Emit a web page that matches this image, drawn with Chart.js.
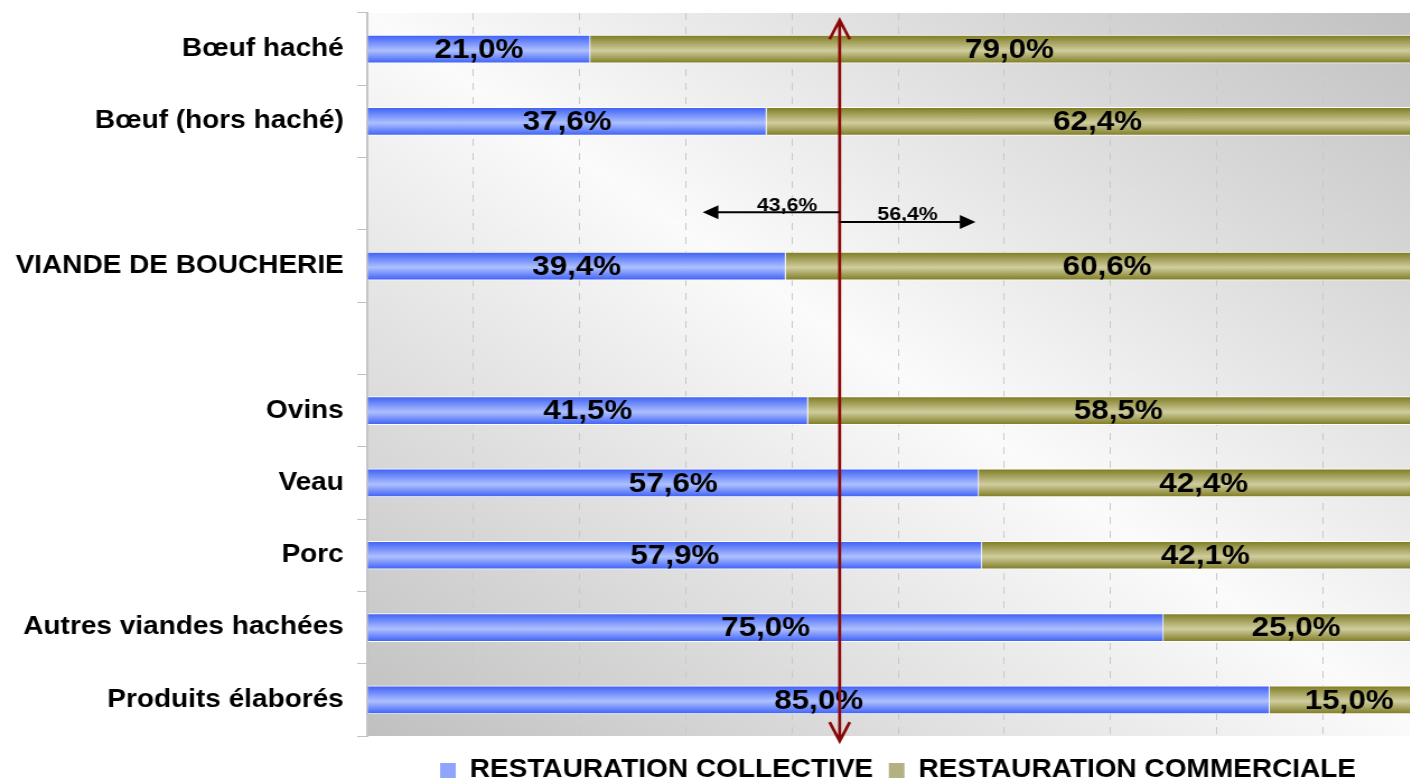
<!DOCTYPE html>
<html>
<head>
<meta charset="utf-8">
<script src="https://cdn.jsdelivr.net/npm/chart.js@4.4.0/dist/chart.umd.min.js"></script>
<style>
html, body { margin: 0; padding: 0; overflow: hidden; background: #fff; width: 1410px; height: 780px; }
#wrap { width: 1440px; height: 793px; }
canvas { display: block; }
</style>
</head>
<body>
<div id="wrap">
  <!-- drawn narrower then widened, like the original picture -->
  <canvas id="chart" width="1286" height="793" style="width:1440px;height:793px"></canvas>
</div>
<script>
// data
var categories = ['Bœuf haché', 'Bœuf (hors haché)', '', 'VIANDE DE BOUCHERIE', '', 'Ovins', 'Veau', 'Porc', 'Autres viandes hachées', 'Produits élaborés'];
var collective = [21.0, 37.6, null, 39.4, null, 41.5, 57.6, 57.9, 75.0, 85.0];
var commerciale = [79.0, 62.4, null, 60.6, null, 58.5, 42.4, 42.1, 25.0, 15.0];
var seriesNames = ['RESTAURATION COLLECTIVE', 'RESTAURATION COMMERCIALE'];
var splitLabels = ['43,6%', '56,4%'];

var FONT = "'Liberation Sans', Arial, sans-serif";
var legendColors = ['#8fa5fb', '#b3b083'];
Chart.defaults.font.family = FONT;

// vertical gradient for each bar, lighter in the middle
function barFill(edge, mid, flat) {
  return function(c) {
    var chart = c.chart;
    if (c.dataIndex === undefined || !chart.chartArea || !chart.scales.y) return flat;
    var y = chart.scales.y.getPixelForValue(c.dataIndex);
    var g = chart.ctx.createLinearGradient(0, y - 14, 0, y + 14);
    g.addColorStop(0, edge);
    g.addColorStop(0.55, mid);
    g.addColorStop(1, edge);
    return g;
  };
}

// grey/white diagonal background of the plot area
var plotBackground = {
  id: 'plotBackground',
  beforeDraw: function(chart) {
    var a = chart.chartArea, ctx = chart.ctx;
    var w = a.right - a.left, h = a.bottom - a.top;
    var cx = a.left + w / 2, cy = a.top + h / 2;
    var n = Math.sqrt(w * w + h * h);
    var ux = h / n, uy = -w / n, d = w * h / n;
    var g = ctx.createLinearGradient(cx - ux * d, cy - uy * d, cx + ux * d, cy + uy * d);
    g.addColorStop(0, '#c0c0c0');
    g.addColorStop(0.5, '#fbfbfb');
    g.addColorStop(1, '#c0c0c0');
    ctx.save();
    ctx.fillStyle = g;
    ctx.fillRect(a.left, a.top, w, h);
    ctx.restore();
  }
};

// value labels in the middle of each bar
var barLabels = {
  id: 'barLabels',
  afterDatasetsDraw: function(chart) {
    var ctx = chart.ctx;
    ctx.save();
    ctx.font = 'bold 28px ' + FONT;
    ctx.fillStyle = '#000';
    ctx.textAlign = 'center';
    ctx.textBaseline = 'middle';
    chart.data.datasets.forEach(function(ds, di) {
      chart.getDatasetMeta(di).data.forEach(function(bar, i) {
        var v = ds.data[i];
        if (v === null || v === undefined) return;
        ctx.fillText(v.toFixed(1).replace('.', ',') + '%', (bar.x + bar.base) / 2, bar.y + 1);
      });
    });
    ctx.restore();
  }
};

function arrowHead(ctx, x, y, dir) {
  ctx.beginPath();
  ctx.moveTo(x, y);
  ctx.lineTo(x - dir * 14, y - 7);
  ctx.lineTo(x - dir * 14, y + 7);
  ctx.closePath();
  ctx.fill();
}

// red marker line and the two black arrows
var markers = {
  id: 'markers',
  afterDraw: function(chart) {
    var ctx = chart.ctx, x = chart.scales.x, y = chart.scales.y;
    var mx = x.getPixelForValue(44.5);
    var top = y.getPixelForValue(-0.4), bottom = y.getPixelForValue(9.57);
    ctx.save();
    ctx.strokeStyle = '#8c0808';
    ctx.lineWidth = 2.7;
    ctx.beginPath();
    ctx.moveTo(mx, top);
    ctx.lineTo(mx, bottom);
    ctx.moveTo(mx - 9, top + 19);
    ctx.lineTo(mx, top);
    ctx.lineTo(mx + 9, top + 19);
    ctx.moveTo(mx - 9, bottom - 19);
    ctx.lineTo(mx, bottom);
    ctx.lineTo(mx + 9, bottom - 19);
    ctx.stroke();

    ctx.strokeStyle = '#000';
    ctx.fillStyle = '#000';
    ctx.lineWidth = 2;
    var yl = y.getPixelForValue(2.256), yr = y.getPixelForValue(2.39);
    var xl = x.getPixelForValue(31.6), xr = x.getPixelForValue(57.3);
    ctx.beginPath();
    ctx.moveTo(mx, yl);
    ctx.lineTo(xl + 10, yl);
    ctx.moveTo(mx, yr);
    ctx.lineTo(xr - 10, yr);
    ctx.stroke();
    arrowHead(ctx, xl, yl, -1);
    arrowHead(ctx, xr, yr, 1);

    ctx.font = 'bold 19px ' + FONT;
    ctx.textAlign = 'center';
    ctx.textBaseline = 'alphabetic';
    ctx.fillText(splitLabels[0], x.getPixelForValue(39.55), yl - 1.5);
    ctx.fillText(splitLabels[1], x.getPixelForValue(50.9), yr - 2);
    ctx.restore();
  }
};

var ctx = document.getElementById('chart');

var myChart = new Chart(ctx, {
  type: 'bar',
  data: {
    labels: categories,
    datasets: [{
      label: seriesNames[0],
      data: collective,
      backgroundColor: barFill('#3d60f6', '#aec0ff', legendColors[0]),
      borderColor: '#ffffff',
      borderWidth: 1,
      barThickness: 28
    }, {
      label: seriesNames[1],
      data: commerciale,
      backgroundColor: barFill('#7e7b22', '#d0cd9f', legendColors[1]),
      borderColor: '#ffffff',
      borderWidth: 1,
      barThickness: 28
    }]
  },
  options: {
    indexAxis: 'y',
    responsive: false,
    devicePixelRatio: 1,
    animation: false,
    events: [],
    layout: { padding: { top: 13, right: 10, left: 0, bottom: 0 } },
    scales: {
      x: {
        stacked: true,
        min: 0,
        max: 100,
        ticks: { display: false, stepSize: 10 },
        grid: {
          color: function(c) { return c.index === 0 ? 'rgba(0,0,0,0)' : '#c9c9c9'; },
          lineWidth: 1,
          drawTicks: false
        },
        border: { display: false, dash: [7, 7] },
        afterFit: function(s) { s.height = 8; }
      },
      y: {
        stacked: true,
        ticks: { color: '#000', font: { size: 25, weight: 'bold' }, padding: 12 },
        grid: { drawOnChartArea: false, tickLength: 9, color: '#c0c0c0', offset: true },
        border: { color: '#c4c4c4', width: 2 },
        afterFit: function(s) {
          s.width = 328;
          s.paddingTop = 0;
          s.paddingBottom = 0;
        }
      }
    },
    plugins: {
      tooltip: { enabled: false },
      legend: {
        position: 'bottom',
        fullSize: false,
        labels: {
          color: '#000',
          font: { size: 25, weight: 'bold' },
          boxWidth: 14,
          boxHeight: 15,
          padding: 14,
          generateLabels: function(chart) {
            var items = Chart.defaults.plugins.legend.labels.generateLabels(chart);
            items.forEach(function(it, i) {
              it.lineWidth = 0;
              it.fillStyle = legendColors[i];
            });
            return items;
          }
        }
      }
    }
  },
  plugins: [plotBackground, barLabels, markers]
});
</script>
</body>
</html>
